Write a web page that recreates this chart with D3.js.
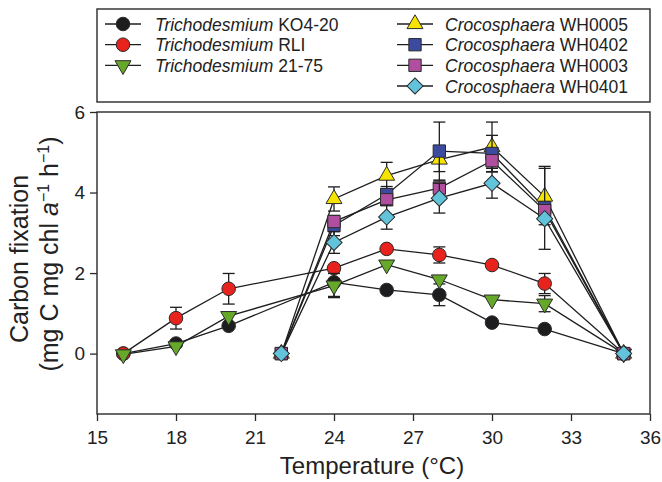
<!DOCTYPE html>
<html>
<head>
<meta charset="utf-8">
<script src="https://cdn.jsdelivr.net/npm/d3@7"></script>
<style>
  body { margin: 0; background: #fff; }
  svg { display: block; font-family: "Liberation Sans", Arial, Helvetica, sans-serif; }
</style>
</head>
<body>
<svg id="chart" width="662" height="482"></svg>
<script>
// temperatures (°C)
var trichoTemps = [16, 18, 20, 24, 26, 28, 30, 32, 35];
var crocoTemps  = [22, 24, 26, 28, 30, 32, 35];

// carbon fixation values and error bars
var ko420     = [0, 0.25, 0.69, 1.77, 1.58, 1.46, 0.77, 0.61, 0];
var ko420Err  = [0, 0.05, 0.05, 0.35, 0.12, 0.27, 0.05, 0.05, 0];
var rli       = [0, 0.88, 1.61, 2.12, 2.6, 2.45, 2.2, 1.74, 0];
var rliErr    = [0, 0.27, 0.38, 0.1, 0.05, 0.2, 0.12, 0.25, 0];
var t2175     = [-0.02, 0.18, 0.93, 1.69, 2.21, 1.84, 1.34, 1.24, 0];
var t2175Err  = [0, 0.05, 0.05, 0.3, 0.1, 0.1, 0.05, 0.2, 0];
var wh0005    = [0, 3.84, 4.42, 4.82, 5.13, 3.9, 0];
var wh0005Err = [0, 0.3, 0.33, 0.3, 0.62, 0.7, 0];
var wh0402    = [0, 3.18, 3.95, 5.03, 4.97, 3.62, 0];
var wh0402Err = [0, 0.25, 0.2, 0.72, 0.45, 1.03, 0];
var wh0003    = [0, 3.28, 3.82, 4.11, 4.79, 3.55, 0];
var wh0003Err = [0, 0.1, 0.1, 0.18, 0.15, 0.15, 0];
var wh0401    = [0, 2.76, 3.39, 3.86, 4.23, 3.35, 0];
var wh0401Err = [0, 0.27, 0.3, 0.37, 0.37, 0.1, 0];

var xTicks = [15, 18, 21, 24, 27, 30, 33, 36];
var yTicks = [0, 2, 4, 6];

var series = [
  {genus: "Trichodesmium", strain: "KO4-20", x: trichoTemps, y: ko420, err: ko420Err, shape: "circle", color: "#1d1d1f"},
  {genus: "Trichodesmium", strain: "RLI", x: trichoTemps, y: rli, err: rliErr, shape: "circle", color: "#e8231d"},
  {genus: "Trichodesmium", strain: "21-75", x: trichoTemps, y: t2175, err: t2175Err, shape: "triDown", color: "#66a82a"},
  {genus: "Crocosphaera", strain: "WH0005", x: crocoTemps, y: wh0005, err: wh0005Err, shape: "triUp", color: "#f5e400"},
  {genus: "Crocosphaera", strain: "WH0402", x: crocoTemps, y: wh0402, err: wh0402Err, shape: "square", color: "#3c4aa0"},
  {genus: "Crocosphaera", strain: "WH0003", x: crocoTemps, y: wh0003, err: wh0003Err, shape: "square", color: "#b04fa0"},
  {genus: "Crocosphaera", strain: "WH0401", x: crocoTemps, y: wh0401, err: wh0401Err, shape: "diamond", color: "#62c4da"}
];

var svg = d3.select("#chart");
var plotL = 97, plotR = 650, plotT = 112, plotB = 414;

var x = d3.scaleLinear().domain([15, 36]).range([plotL, plotR]);
var y = d3.scaleLinear().domain([-1.5, 6]).range([plotB, plotT]);

// marker shapes
function symbolPath(shape) {
  if (shape === "circle") return d3.symbol(d3.symbolCircle, 145)();
  if (shape === "square") return d3.symbol(d3.symbolSquare, 152)();
  if (shape === "diamond") return d3.symbol(d3.symbolSquare, 130)();
  return d3.symbol(d3.symbolTriangle, 110)();
}
function symbolRotate(shape) {
  if (shape === "diamond") return 45;
  if (shape === "triDown") return 180;
  return 0;
}

// axes
var xAxis = svg.append("g").attr("transform", "translate(0," + plotB + ")")
  .call(d3.axisBottom(x).tickValues(xTicks).tickSize(7).tickPadding(5));
var yAxis = svg.append("g").attr("transform", "translate(" + plotL + ",0)")
  .call(d3.axisLeft(y).tickValues(yTicks).tickSize(7).tickPadding(5));
[xAxis, yAxis].forEach(function (a) {
  a.select(".domain").remove();
  a.selectAll("line").attr("stroke", "#2a2a2a").attr("stroke-width", 1.3);
  a.selectAll("text").attr("fill", "#222").style("font-size", "19px")
    .style("font-family", "'Liberation Sans', Arial, sans-serif");
});
xAxis.selectAll("text").attr("dy", "0.95em");

// frame
svg.append("rect").attr("x", plotL).attr("y", plotT)
  .attr("width", plotR - plotL).attr("height", plotB - plotT)
  .attr("fill", "none").attr("stroke", "#2a2a2a").attr("stroke-width", 1.4);

// lines
var line = d3.line().x(function (d) { return x(d[0]); }).y(function (d) { return y(d[1]); });
series.forEach(function (s) {
  svg.append("path")
    .datum(d3.zip(s.x, s.y))
    .attr("d", line)
    .attr("fill", "none")
    .attr("stroke", "#1e1e1e")
    .attr("stroke-width", 1.3);
});

// error bars and markers
series.forEach(function (s) {
  var pts = s.x.map(function (t, i) { return {t: t, v: s.y[i], e: s.err[i]}; });
  var eb = svg.append("g").attr("stroke", "#1e1e1e").attr("stroke-width", 1.3);
  pts.filter(function (p) { return p.e > 0.12; }).forEach(function (p) {
    eb.append("line").attr("x1", x(p.t)).attr("x2", x(p.t))
      .attr("y1", y(p.v - p.e)).attr("y2", y(p.v + p.e));
    [p.v - p.e, p.v + p.e].forEach(function (v) {
      eb.append("line").attr("x1", x(p.t) - 6).attr("x2", x(p.t) + 6)
        .attr("y1", y(v)).attr("y2", y(v));
    });
  });
  svg.append("g").selectAll("path").data(pts).join("path")
    .attr("d", symbolPath(s.shape))
    .attr("transform", function (p) {
      return "translate(" + x(p.t) + "," + y(p.v) + ") rotate(" + symbolRotate(s.shape) + ")";
    })
    .attr("fill", s.color)
    .attr("stroke", "#2b2b2b")
    .attr("stroke-width", 1);
});

// legend
svg.append("rect").attr("x", 97).attr("y", 9).attr("width", 553).attr("height", 93)
  .attr("fill", "#fff").attr("stroke", "#2a2a2a").attr("stroke-width", 1.4);
var rowY = [24, 44.7, 65.3, 86];
series.forEach(function (s, i) {
  var col = i < 3 ? 0 : 1;
  var row = i < 3 ? i : i - 3;
  var cx = col === 0 ? 123 : 415;
  var cy = rowY[row];
  var g = svg.append("g");
  g.append("line").attr("x1", cx - 18).attr("x2", cx + 18).attr("y1", cy).attr("y2", cy)
    .attr("stroke", "#1e1e1e").attr("stroke-width", 1.3);
  g.append("path").attr("d", symbolPath(s.shape))
    .attr("transform", "translate(" + cx + "," + cy + ") rotate(" + symbolRotate(s.shape) + ")")
    .attr("fill", s.color).attr("stroke", "#2b2b2b").attr("stroke-width", 1);
  var t = g.append("text").attr("x", col === 0 ? 155 : 445).attr("y", cy + 6.5)
    .style("font-size", "17.5px").attr("fill", "#222");
  t.append("tspan").style("font-style", "italic").text(s.genus);
  t.append("tspan").text(" " + s.strain);
});

// axis titles
svg.append("text").attr("x", 372).attr("y", 474).attr("text-anchor", "middle")
  .style("font-size", "24px").attr("fill", "#222").text("Temperature (°C)");

svg.append("text").attr("transform", "translate(28,259) rotate(-90)").attr("text-anchor", "middle")
  .style("font-size", "25px").attr("fill", "#222").text("Carbon fixation");

var yl = svg.append("text").attr("transform", "translate(58,254) rotate(-90)").attr("text-anchor", "middle")
  .style("font-size", "25px").attr("fill", "#222");
yl.append("tspan").text("(mg C mg chl ");
yl.append("tspan").style("font-style", "italic").text("a");
yl.append("tspan").attr("dy", -9).style("font-size", "16px").text("\u22121");
yl.append("tspan").attr("dy", 9).text(" h");
yl.append("tspan").attr("dy", -9).style("font-size", "16px").text("\u22121");
yl.append("tspan").attr("dy", 9).text(")");
</script>
</body>
</html>
